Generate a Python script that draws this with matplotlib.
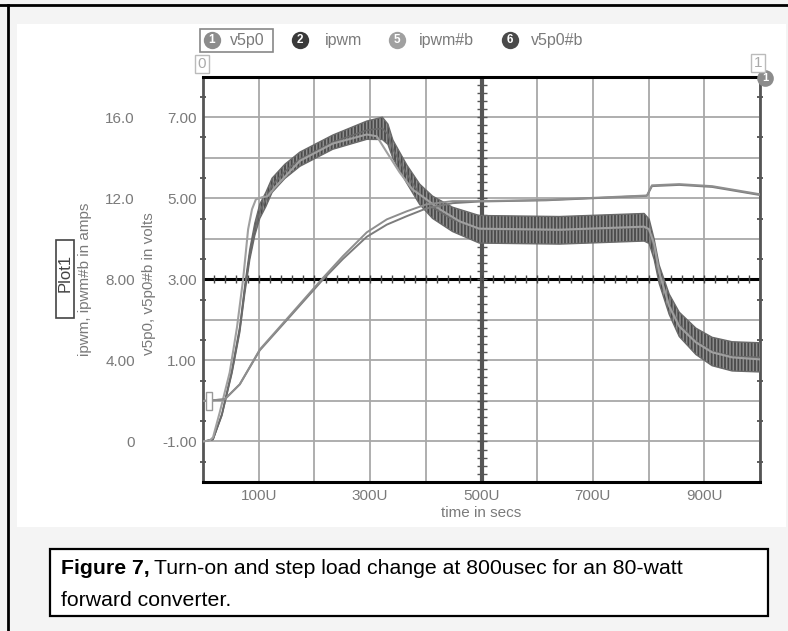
import numpy as np
import matplotlib.pyplot as plt
from matplotlib.patches import Rectangle
from matplotlib.lines import Line2D

plt.rcParams['font.family'] = ['Liberation Sans', 'DejaVu Sans']
plt.rcParams['hatch.linewidth'] = 1.3

# traces (time in usec)
v5p0_t = [0, 39, 66, 102, 156, 213, 251, 294, 330, 366, 401, 448, 496, 616, 797, 806, 855, 914, 1000]
v5p0_v = [0, 0.04, 0.41, 1.27, 2.11, 3.0, 3.57, 4.16, 4.48, 4.68, 4.85, 4.93, 4.93, 4.96, 5.07, 5.32, 5.35, 5.30, 5.10]
v5p0b_v = [0, 0.04, 0.41, 1.25, 2.08, 2.96, 3.50, 4.05, 4.35, 4.56, 4.75, 4.88, 4.92, 4.95, 5.06, 5.30, 5.33, 5.28, 5.08]

# switching model current: centre of the ripple band and half ripple (amps)
ipwm_t = [0, 18, 34, 52, 66, 75, 84, 93, 102, 113, 124, 147, 174, 233, 294, 322, 332, 341, 366,
          389, 412, 448, 496, 640, 792, 801, 810, 819, 837, 855, 885, 914, 950, 1000]
ipwm_a = [0, 0.1, 1.33, 3.46, 5.53, 7.5, 9.23, 10.47, 11.36, 11.95, 12.64, 13.33, 13.93, 14.77, 15.36,
          15.45, 15.16, 14.42, 13.19, 12.2, 11.56, 10.96, 10.47, 10.42, 10.57, 10.37, 9.48, 8.25, 6.77,
          5.78, 4.94, 4.44, 4.2, 4.15]
ipwm_rip = [0, 0, 0.05, 0.1, 0.15, 0.2, 0.25, 0.3, 0.35, 0.35, 0.35, 0.35, 0.35, 0.35, 0.45, 0.55, 0.5,
            0.45, 0.45, 0.5, 0.55, 0.6, 0.68, 0.68, 0.68, 0.6, 0.5, 0.45, 0.5, 0.6, 0.65, 0.7, 0.72, 0.72]

# averaged model current (amps)
ipwmb_t = [0, 12, 18, 30, 48, 61, 72, 81, 88, 95, 106, 116, 129, 174, 233, 294, 312, 330, 353, 376,
           401, 425, 461, 496, 640, 792, 801, 810, 819, 837, 855, 885, 914, 950, 1000]
ipwmb_a = [0, 0.05, 0.2, 1.43, 3.41, 5.63, 8.0, 10.47, 11.46, 11.95, 12.05, 12.1, 12.54, 13.85, 14.7,
           15.15, 15.06, 14.27, 13.28, 12.44, 11.95, 11.46, 10.86, 10.5, 10.45, 10.6, 10.47, 9.73, 8.35,
           6.67, 5.68, 4.89, 4.4, 4.15, 4.05]

legend_names = ['v5p0', 'ipwm', 'ipwm#b', 'v5p0#b']
legend_nums = ['1', '2', '5', '6']
legend_cols = ['#8c8c8c', '#3a3a3a', '#a0a0a0', '#4a4a4a']

x_ticks = [100, 300, 500, 700, 900]
x_labels = ['100U', '300U', '500U', '700U', '900U']
v_ticks = [-1, 1, 3, 5, 7]
v_labels = ['-1.00', '1.00', '3.00', '5.00', '7.00']
a_ticks = [0, 4, 8, 12, 16]
a_labels = ['0', '4.00', '8.00', '12.0', '16.0']


def a2v(a):
    return np.asarray(a) / 2.0 - 1.0


def v2a(v):
    return (np.asarray(v) + 1.0) * 2.0


W, H = 788, 631


def fx(x):
    return x / W


def fy(y):
    return 1 - y / H


fig = plt.figure(figsize=(7.88, 6.31), dpi=100, facecolor='#f4f4f4')
fig.add_artist(Rectangle((fx(17), fy(527)), fx(786) - fx(17), fy(24) - fy(527),
                         transform=fig.transFigure, facecolor='white', edgecolor='none', zorder=-5))
fig.add_artist(Line2D([0, 1], [fy(5), fy(5)], color='black', lw=2, transform=fig.transFigure))
fig.add_artist(Line2D([fx(8), fx(8)], [fy(5), 0], color='black', lw=2, transform=fig.transFigure))

ax = fig.add_axes([fx(203), fy(482), fx(760) - fx(203), fy(76.7) - fy(482)])
ax.set_xlim(0, 1000)
ax.set_ylim(-2, 8)

ax.set_xticks(x_ticks, labels=x_labels)
ax.set_xticks(np.arange(0, 1001, 100), minor=True)
ax.set_yticks(v_ticks, labels=v_labels)
ax.set_yticks(np.arange(-2, 8.5, 1), minor=True)
ax.grid(True, which='both', color='#a8a8a8', lw=1.3, zorder=0)
ax.set_axisbelow(True)
ax.tick_params(axis='both', which='both', length=0, colors='#7a7a7a', labelsize=11)
ax.tick_params(axis='y', pad=4.5)
ax.tick_params(axis='x', pad=5)
ax.set_xlabel('time in secs', fontsize=11, color='#7a7a7a', labelpad=2)

for s in ['top', 'bottom']:
    ax.spines[s].set_color('black')
    ax.spines[s].set_linewidth(2.2)
for s in ['left', 'right']:
    ax.spines[s].set_color('#555555')
    ax.spines[s].set_linewidth(2)

sec = ax.secondary_yaxis('left', functions=(v2a, a2v))
sec.set_yticks(a_ticks, labels=a_labels)
sec.tick_params(length=0, pad=49, colors='#7a7a7a', labelsize=11)
sec.spines['left'].set_visible(False)

# centre cross hairs with their small ticks
ax.axhline(3, color='black', lw=2.2, zorder=1)
ax.axvline(500, color='#555555', lw=3, zorder=1)
hx = np.arange(20, 1000, 20)
ax.plot(hx, np.full(len(hx), 3.0), ls='none', marker='|', ms=6, mew=1, color='#444444', zorder=1)
vy = np.arange(-1.8, 8, 0.2)
ax.plot(np.full(len(vy), 500.0), vy, ls='none', marker='_', ms=7, mew=1, color='#555555', zorder=1)
sy = np.arange(-1.5, 8, 1.0)
ax.plot(np.zeros(len(sy)), sy, ls='none', marker='_', ms=5, mew=1.2, color='#444444', clip_on=False)
ax.plot(np.full(len(sy), 1000.0), sy, ls='none', marker='_', ms=5, mew=1.2, color='#444444', clip_on=False)

# traces
lo = np.array(ipwm_a) - np.array(ipwm_rip)
hi = np.array(ipwm_a) + np.array(ipwm_rip)
ax.fill_between(ipwm_t, a2v(lo), a2v(hi), facecolor='#8e8e8e', edgecolor='#4a4a4a',
                hatch='|||||', lw=0, zorder=3)
ax.plot(ipwm_t, a2v(hi), color='#6a6a6a', lw=1, zorder=3)
ax.plot(ipwm_t, a2v(lo), color='#6a6a6a', lw=1, zorder=3)
ax.plot(ipwm_t, a2v(ipwm_a), color='#6a6a6a', lw=1.2, zorder=3)
ax.plot(ipwmb_t, a2v(ipwmb_a), color='#a0a0a0', lw=1.5, zorder=4)
ax.plot(v5p0_t, v5p0b_v, color='#7c7c7c', lw=1.4, zorder=4)
ax.plot(v5p0_t, v5p0_v, color='#8e8e8e', lw=1.4, zorder=4)

# left axis labels
fig.text(fx(85), fy(279), 'ipwm, ipwm#b in amps', rotation=90, ha='center', va='center',
         fontsize=11, color='#7a7a7a')
fig.text(fx(149), fy(284), 'v5p0, v5p0#b in volts', rotation=90, ha='center', va='center',
         fontsize=11, color='#7a7a7a')
fig.add_artist(Rectangle((fx(56), fy(318)), fx(74) - fx(56), fy(240) - fy(318),
                         transform=fig.transFigure, facecolor='white', edgecolor='#444444', lw=1.2))
fig.text(fx(65), fy(273), 'Plot1', rotation=90, ha='center', va='center', fontsize=12, color='#444444')
fig.add_artist(Rectangle((fx(206), fy(410)), fx(212) - fx(206), fy(392) - fy(410),
                         transform=fig.transFigure, facecolor='white', edgecolor='#999999', lw=1))

# cursor boxes and marker
fig.text(fx(202), fy(64), '0', ha='center', va='center', fontsize=11, color='#aaaaaa',
         bbox=dict(boxstyle='square,pad=0.15', fc='white', ec='#bbbbbb', lw=1))
fig.text(fx(758), fy(63), '1', ha='center', va='center', fontsize=11, color='#aaaaaa',
         bbox=dict(boxstyle='square,pad=0.15', fc='white', ec='#bbbbbb', lw=1))
fig.add_artist(Line2D([fx(765)], [fy(78)], marker='o', ms=12, color='#8c8c8c', mec='none',
                      transform=fig.transFigure))
fig.text(fx(765), fy(78), '1', ha='center', va='center', fontsize=8, color='white', weight='bold')

# legend row
leg_cx = [212, 300, 397, 510]
leg_tx = [230, 325, 419, 531]
for cx, tx, name, num, col in zip(leg_cx, leg_tx, legend_names, legend_nums, legend_cols):
    fig.add_artist(Line2D([fx(cx)], [fy(40)], marker='o', ms=12.5, color=col, mec='none',
                          transform=fig.transFigure))
    fig.text(fx(cx), fy(40), num, ha='center', va='center', fontsize=8.5, color='white', weight='bold')
    fig.text(fx(tx), fy(40), name, ha='left', va='center', fontsize=11.5, color='#7a7a7a')
fig.add_artist(Rectangle((fx(200), fy(52)), fx(273) - fx(200), fy(29) - fy(52),
                         transform=fig.transFigure, facecolor='none', edgecolor='#888888', lw=1.2))

# caption
fig.add_artist(Rectangle((fx(50), fy(616)), fx(768) - fx(50), fy(549) - fy(616),
                         transform=fig.transFigure, facecolor='white', edgecolor='black', lw=1.6))
tb = fig.text(fx(61), fy(568), 'Figure 7,', weight='bold', fontsize=15.3, va='center', color='black')
fig.canvas.draw()
bb = tb.get_window_extent()
fig.text((bb.x1 + 4) / W, fy(568), 'Turn-on and step load change at 800usec for an 80-watt',
         fontsize=15.3, va='center', color='black')
fig.text(fx(61), fy(601), 'forward converter.', fontsize=15.3, va='center', color='black')

fig.savefig('out.png', dpi=100, facecolor=fig.get_facecolor())
